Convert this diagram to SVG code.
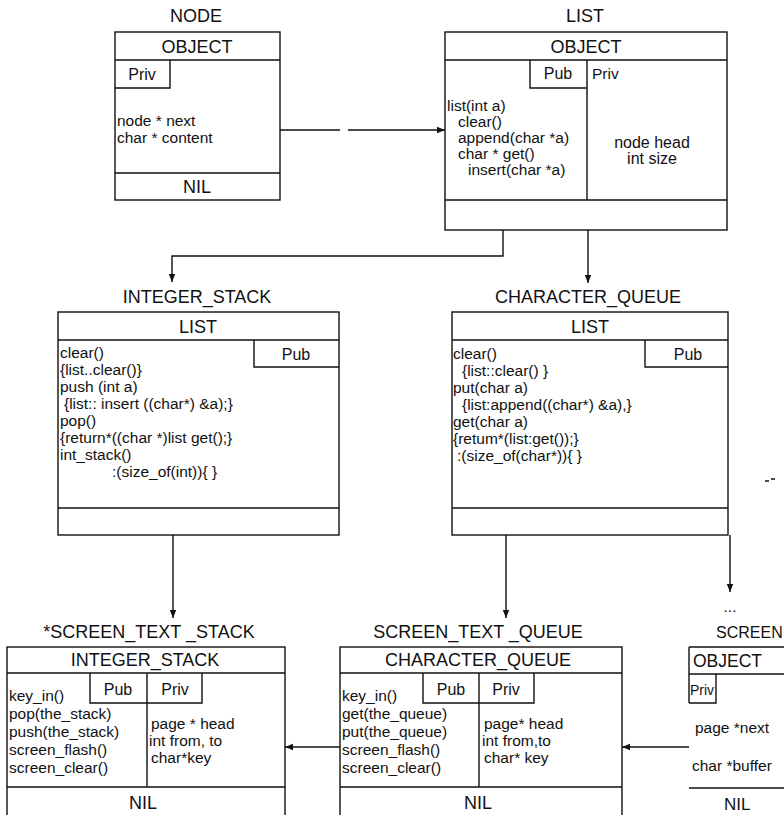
<svg xmlns="http://www.w3.org/2000/svg" width="784" height="815" viewBox="0 0 784 815">
<defs>
<style>
.box{fill:none;stroke:#111;stroke-width:1.4}
.ln{fill:none;stroke:#111;stroke-width:1.4}
text{font-family:"Liberation Sans",Arial,sans-serif;fill:#111}
.t{font-size:18px}
.h{font-size:18px;text-anchor:middle}
.b{font-size:15.5px}
.c{font-size:16px;text-anchor:middle}
</style>
<marker id="ah" viewBox="0 0 10 10" refX="10" refY="5" markerWidth="8" markerHeight="8" orient="auto" markerUnits="userSpaceOnUse"><path d="M0,1 L10,5 L0,9 z" fill="#111"/></marker>
</defs>
<rect width="784" height="815" fill="#fff"/>

<g id="node">
<text class="h" x="196" y="22">NODE</text>
<rect class="box" x="115" y="32" width="165" height="168"/>
<path class="ln" d="M115 60H280M115 173H280M115 88H170V60"/>
<text class="c" x="142" y="80">Priv</text>
<text class="h" x="197" y="53">OBJECT</text>
<text class="b" x="117" y="126">node * next</text>
<text class="b" x="117" y="143">char * content</text>
<text class="h" x="197" y="193">NIL</text>
</g>

<g id="list">
<text class="h" x="585" y="22">LIST</text>
<rect class="box" x="445" y="32" width="282" height="198"/>
<path class="ln" d="M445 60H727M445 200H727M530 60V88H587M587 60V200"/>
<text class="h" x="586" y="53">OBJECT</text>
<text class="c" x="558" y="79">Pub</text>
<text class="b" x="592" y="79">Priv</text>
<text class="b" x="447" y="111">list(int a)</text>
<text class="b" x="458" y="127">clear()</text>
<text class="b" x="458" y="143">append(char *a)</text>
<text class="b" x="458" y="159">char * get()</text>
<text class="b" x="468" y="175">insert(char *a)</text>
<text class="c" x="652" y="148">node head</text>
<text class="c" x="652" y="164">int size</text>
</g>

<g id="integer_stack">
<text class="h" x="197" y="303">INTEGER_STACK</text>
<rect class="box" x="58" y="312" width="281" height="223"/>
<path class="ln" d="M58 340H339M58 508H339M254 340V367H339"/>
<text class="h" x="198" y="333">LIST</text>
<text class="c" x="296" y="360">Pub</text>
<text class="b" x="60" y="358">clear()</text>
<text class="b" x="60" y="375">{list..clear()}</text>
<text class="b" x="60" y="392">push (int a)</text>
<text class="b" x="64" y="409"> {list:: insert ((char*) &amp;a);}</text>
<text class="b" x="60" y="426">pop()</text>
<text class="b" x="60" y="443">{return*((char *)list get();}</text>
<text class="b" x="60" y="460">int_stack()</text>
<text class="b" x="112" y="477">:(size_of(int)){ }</text>
</g>

<g id="character_queue">
<text class="h" x="588" y="303">CHARACTER_QUEUE</text>
<rect class="box" x="452" y="312" width="276" height="223"/>
<path class="ln" d="M452 340H728M452 508H728M645 340V367H728"/>
<text class="h" x="590" y="333">LIST</text>
<text class="c" x="688" y="360">Pub</text>
<text class="b" x="453" y="359">clear()</text>
<text class="b" x="462" y="376">{list::clear() }</text>
<text class="b" x="453" y="393">put(char a)</text>
<text class="b" x="462" y="410">{list:append((char*) &amp;a),}</text>
<text class="b" x="453" y="427">get(char a)</text>
<text class="b" x="453" y="444">{retum*(list:get());}</text>
<text class="b" x="457" y="461">:(size_of(char*)){ }</text>
</g>

<g id="screen_text_stack">
<text class="h" x="149" y="638" font-size="18.5">*SCREEN_TEXT _STACK</text>
<rect class="box" x="7" y="647" width="278" height="180"/>
<path class="ln" d="M7 673H285M7 787H285M90 673V703H202V673M147 673V787"/>
<text class="h" x="145" y="666">INTEGER_STACK</text>
<text class="c" x="118" y="695">Pub</text>
<text class="c" x="175" y="695">Priv</text>
<text class="b" x="9" y="701">key_in()</text>
<text class="b" x="9" y="719">pop(the_stack)</text>
<text class="b" x="9" y="737">push(the_stack)</text>
<text class="b" x="9" y="755">screen_flash()</text>
<text class="b" x="9" y="773">screen_clear()</text>
<text class="b" x="151" y="729">page * head</text>
<text class="b" x="149" y="746">int from, to</text>
<text class="b" x="151" y="763">char*key</text>
<text class="h" x="143" y="809">NIL</text>
</g>

<g id="screen_text_queue">
<text class="h" x="478" y="638" font-size="18.5">SCREEN_TEXT _QUEUE</text>
<rect class="box" x="340" y="647" width="282" height="180"/>
<path class="ln" d="M340 673H622M340 787H622M423 673V703H534V673M479 673V787"/>
<text class="h" x="478" y="666">CHARACTER_QUEUE</text>
<text class="c" x="451" y="695">Pub</text>
<text class="c" x="506" y="695">Priv</text>
<text class="b" x="342" y="701">key_in()</text>
<text class="b" x="342" y="719">get(the_queue)</text>
<text class="b" x="342" y="737">put(the_queue)</text>
<text class="b" x="342" y="755">screen_flash()</text>
<text class="b" x="342" y="773">screen_clear()</text>
<text class="b" x="484" y="729">page* head</text>
<text class="b" x="482" y="746">int from,to</text>
<text class="b" x="484" y="763">char* key</text>
<text class="h" x="478" y="809">NIL</text>
</g>

<g id="screen">
<text class="b" x="730" y="612" text-anchor="middle">...</text>
<text x="716" y="638" font-size="16">SCREEN</text>
<path class="ln" d="M689 647H790M689 647V703M689 674H790M689 703H716V674M689 788H790"/>
<text x="693" y="667" font-size="17.5">OBJECT</text>
<text x="690" y="695" font-size="14">Priv</text>
<text class="b" x="695" y="733">page *next</text>
<text class="b" x="692" y="771">char *buffer</text>
<text x="724" y="810" font-size="17">NIL</text>
</g>

<g id="connectors">
<path class="ln" d="M280 130H340M348 130H445" marker-end="url(#ah)"/>
<path class="ln" d="M503 230V256H172V282" marker-end="url(#ah)"/>
<path class="ln" d="M588 230V283" marker-end="url(#ah)"/>
<path class="ln" d="M173 535V618" marker-end="url(#ah)"/>
<path class="ln" d="M506 535V618" marker-end="url(#ah)"/>
<path class="ln" d="M730 535V592" marker-end="url(#ah)"/>
<path class="ln" d="M340 747H285" marker-end="url(#ah)"/>
<path class="ln" d="M689 747H622" marker-end="url(#ah)"/>
<path class="ln" d="M765 481H769M771 479H775" stroke-width="1"/>
</g>
</svg>
